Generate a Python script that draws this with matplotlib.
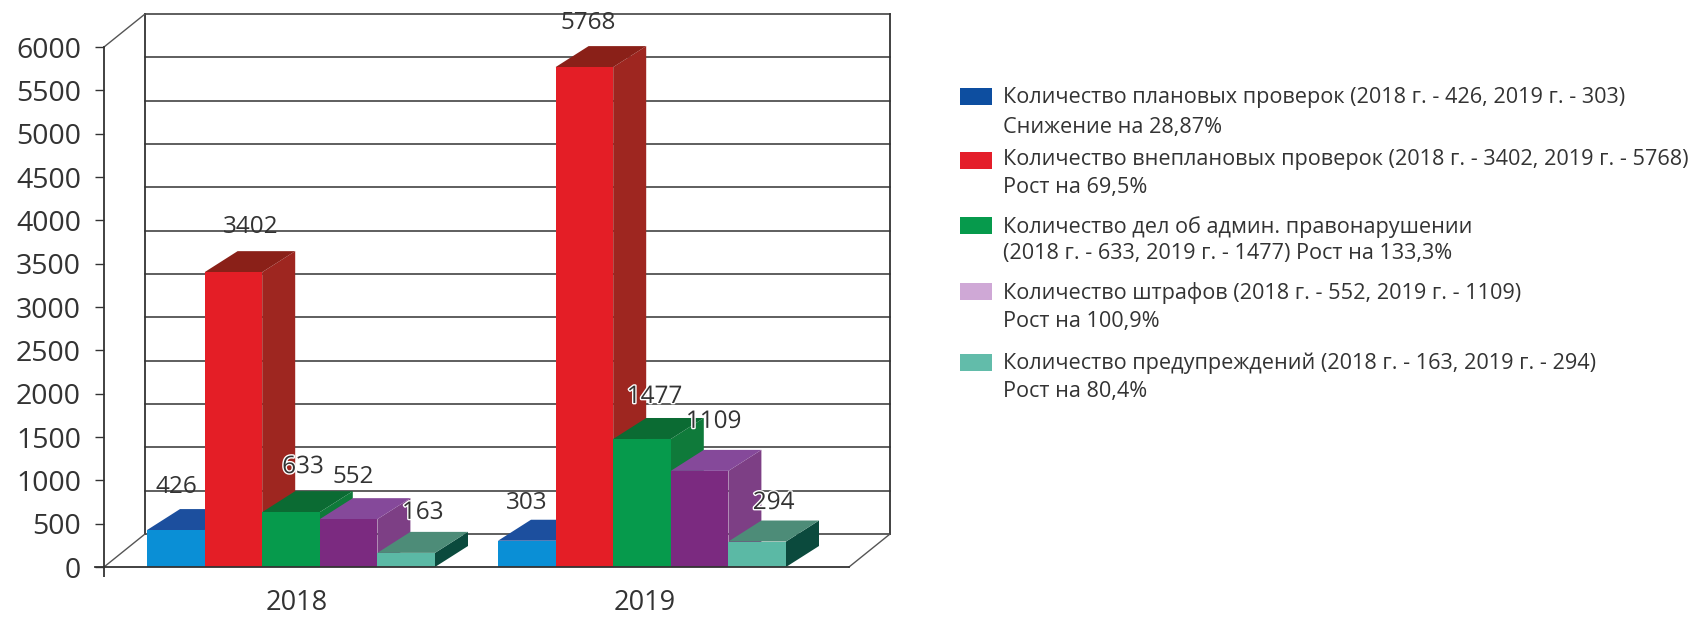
import matplotlib
matplotlib.use('Agg')
import matplotlib.pyplot as plt
import matplotlib.patheffects as pe
from matplotlib.patches import Polygon, Rectangle

plt.rcParams['font.family'] = ['Open Sans', 'DejaVu Sans']

years = ['2018', '2019']
planned = [426, 303]
unplanned = [3402, 5768]
admin_cases = [633, 1477]
fines = [552, 1109]
warnings_ = [163, 294]
series = [planned, unplanned, admin_cases, fines, warnings_]
yticks = [0, 500, 1000, 1500, 2000, 2500, 3000, 3500, 4000, 4500, 5000, 5500, 6000]

legend_lines = [
    ['Количество плановых проверок (2018 г. - 426, 2019 г. - 303)', 'Снижение на 28,87%'],
    ['Количество внеплановых проверок (2018 г. - 3402, 2019 г. - 5768)', 'Рост на 69,5%'],
    ['Количество дел об админ. правонарушении', '(2018 г. - 633, 2019 г. - 1477) Рост на 133,3%'],
    ['Количество штрафов (2018 г. - 552, 2019 г. - 1109)', 'Рост на 100,9%'],
    ['Количество предупреждений (2018 г. - 163, 2019 г. - 294)', 'Рост на 80,4%'],
]

# front, side, top
colors = [('#0a8fd6', '#1c4f9e', '#1c4f9e'),
          ('#e41e26', '#9e2620', '#8a2018'),
          ('#069a4c', '#0f7a3a', '#0b6b33'),
          ('#7b2a80', '#7d3f85', '#85499a'),
          ('#5bb9a5', '#0b4a3d', '#4d8c78')]
swatches = ['#0d4ea0', '#e41e2a', '#069a4c', '#cfa8d6', '#62bcaa']
ink = '#333333'

# label offsets from bar top, pixels
label_off = [[(1, 43), (0, 38)],
             [(17, 45), (3.5, 44)],
             [(12, 45), (12.5, 42)],
             [(4.5, 42), (14, 49)],
             [(16.5, 40), (16.5, 38.5)]]
halo = [[False, False], [False, False], [True, True], [False, True], [True, True]]

fig = plt.figure(figsize=(17, 6.19), dpi=100)
ax = fig.add_axes([0, 0, 1, 1])
ax.patch.set_alpha(0)
u = 6000 / 520  # values per pixel
ax.set_xlim(0, 1700)
ax.set_ylim(-52 * u, 567 * u)

# back wall and floor
wall_dx, wall_dy = 41, 33 * u
x0, x1 = 104, 849
for v in yticks:
    ax.plot([x0 + wall_dx, x1 + wall_dx], [v + wall_dy, v + wall_dy], color=ink, lw=1.1, zorder=1)
ax.plot([x0 + wall_dx] * 2, [wall_dy, 6000 + wall_dy], color=ink, lw=1.3, zorder=1)
ax.plot([x1 + wall_dx] * 2, [wall_dy, 6000 + wall_dy], color=ink, lw=1.3, zorder=1)
ax.plot([x0, x0 + wall_dx], [0, wall_dy], color='#555555', lw=1, zorder=1)
ax.plot([x0, x0 + wall_dx], [6000, 6000 + wall_dy], color='#555555', lw=1, zorder=1)
ax.plot([x1, x1 + wall_dx], [0, wall_dy], color='#555555', lw=1, zorder=1)

# bars, left to right so the next one covers the side of the previous
group_left = [147, 498]
w = 57.6
dx, dy = 33, 21 * u
z = 2
for g in range(len(years)):
    for i, vals in enumerate(series):
        v = vals[g]
        x = group_left[g] + i * w
        front, side, top = colors[i]
        ax.add_patch(Polygon([(x + w, 0), (x + w + dx, dy), (x + w + dx, v + dy), (x + w, v)],
                             facecolor=side, edgecolor='none', zorder=z))
        ax.add_patch(Polygon([(x, v), (x + dx, v + dy), (x + w + dx, v + dy), (x + w, v)],
                             facecolor=top, edgecolor='none', zorder=z))
        ax.bar(x, v, width=w, align='edge', color=front, zorder=z + 0.5)
        z += 1

for g in range(len(years)):
    for i, vals in enumerate(series):
        x = group_left[g] + i * w + w / 2
        effects = [pe.withStroke(linewidth=2, foreground='white')] if halo[i][g] else None
        ax.annotate(str(vals[g]), xy=(x, vals[g]), xytext=label_off[i][g], textcoords='offset pixels',
                    ha='center', va='center', fontsize=17.5, color=ink, zorder=50, path_effects=effects)

# axes
for s in ['top', 'right']:
    ax.spines[s].set_visible(False)
ax.spines['left'].set_position(('data', x0))
ax.spines['left'].set_bounds(0, 6000)
ax.spines['bottom'].set_position(('data', 0))
ax.spines['bottom'].set_bounds(x0 - 9, x1)
for s in ['left', 'bottom']:
    ax.spines[s].set_color(ink)
    ax.spines[s].set_linewidth(1.3)
    ax.spines[s].set_zorder(40)
ax.set_yticks(yticks)
ax.set_yticklabels([str(v) for v in yticks], fontsize=20.5, color=ink)
ax.tick_params(axis='y', length=6.5, width=1, color=ink, pad=10)
ax.set_xticks([297, 645])
ax.set_xticklabels(years, fontsize=19.5, color=ink)
ax.tick_params(axis='x', length=0, pad=16)
ax.set_xticks([x0], minor=True)
ax.tick_params(axis='x', which='minor', length=7, width=1.3, color=ink, direction='out')

# legend in pixel coordinates
swatch_y = [88, 152, 217, 283, 354]
text_y = [(98, 127), (160, 188), (227, 254), (293, 321), (363, 391)]
leg = fig.add_axes([0, 0, 1, 1])
leg.set_xlim(0, 1700)
leg.set_ylim(619, 0)
leg.axis('off')
leg.patch.set_alpha(0)
for c, sy, ty, lines in zip(swatches, swatch_y, text_y, legend_lines):
    leg.add_patch(Rectangle((960, sy), 32, 17, facecolor=c, edgecolor='none'))
    for t, line in zip(ty, lines):
        leg.text(1003, t, line, fontsize=15.6, color=ink, ha='left', va='center')

fig.savefig('out.png', dpi=100)
